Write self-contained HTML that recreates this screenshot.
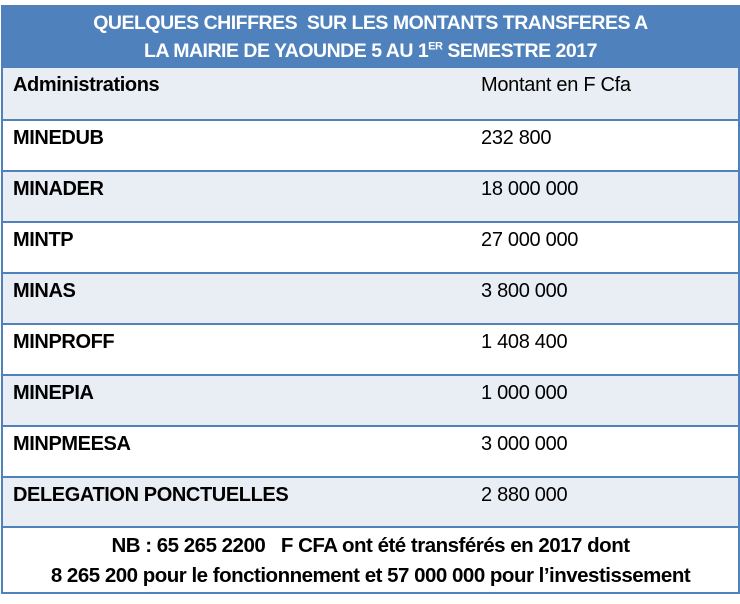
<!DOCTYPE html>
<html><head><meta charset="utf-8"><style>
body{margin:0;background:#fff;width:740px;height:604px;position:relative;font-family:"Liberation Sans",sans-serif;overflow:hidden}
.box{position:absolute;left:1px;top:5px;width:735px;height:585px;border:2px solid #4F81BD;box-sizing:content-box}
.hd{position:absolute;left:0;top:0;width:735px;height:61px;background:#4F81BD;color:#fff;font-weight:bold;font-size:19.5px;text-align:center;letter-spacing:-0.5px}
.hd div{position:absolute;left:0;width:100%}
.row{position:absolute;left:0;width:735px;height:51px;border-top:2px solid #4F81BD;box-sizing:border-box;font-size:20px;color:#000}
.row .a{position:absolute;left:10px;top:6px;font-weight:bold;letter-spacing:-0.4px}
.row .b{position:absolute;left:478px;top:6px;letter-spacing:-0.3px}
.g{background:#E9EDF4}
.ft{position:absolute;left:0;top:519px;width:735px;height:66px;border-top:2px solid #4F81BD;box-sizing:border-box;text-align:center;font-weight:bold;font-size:20.5px;letter-spacing:-0.5px}
sup{font-size:11px}
</style></head><body>
<div class="box">
<div class="hd"><div style="top:5px">QUELQUES CHIFFRES&nbsp; SUR LES MONTANTS TRANSFERES A</div><div style="top:33px">LA MAIRIE DE YAOUNDE 5 AU 1<sup>ER</sup> SEMESTRE 2017</div></div>
<div class="row g" style="top:61px;border-top:none"><span class="a">Administrations</span><span class="b">Montant en F Cfa</span></div>
<div class="row" style="top:112px"><span class="a">MINEDUB</span><span class="b">232 800</span></div>
<div class="row g" style="top:163px"><span class="a">MINADER</span><span class="b">18 000 000</span></div>
<div class="row" style="top:214px"><span class="a">MINTP</span><span class="b">27 000 000</span></div>
<div class="row g" style="top:265px"><span class="a">MINAS</span><span class="b">3 800 000</span></div>
<div class="row" style="top:316px"><span class="a">MINPROFF</span><span class="b">1 408 400</span></div>
<div class="row g" style="top:367px"><span class="a">MINEPIA</span><span class="b">1 000 000</span></div>
<div class="row" style="top:418px"><span class="a">MINPMEESA</span><span class="b">3 000 000</span></div>
<div class="row g" style="top:469px"><span class="a">DELEGATION PONCTUELLES</span><span class="b">2 880 000</span></div>
<div class="ft"><div style="position:absolute;top:6px;width:100%">NB : 65 265 2200 &nbsp; F CFA ont été transférés en 2017 dont</div><div style="position:absolute;top:36px;width:100%">8 265 200 pour le fonctionnement et 57 000 000 pour l’investissement</div></div>
</div>
</body></html>
